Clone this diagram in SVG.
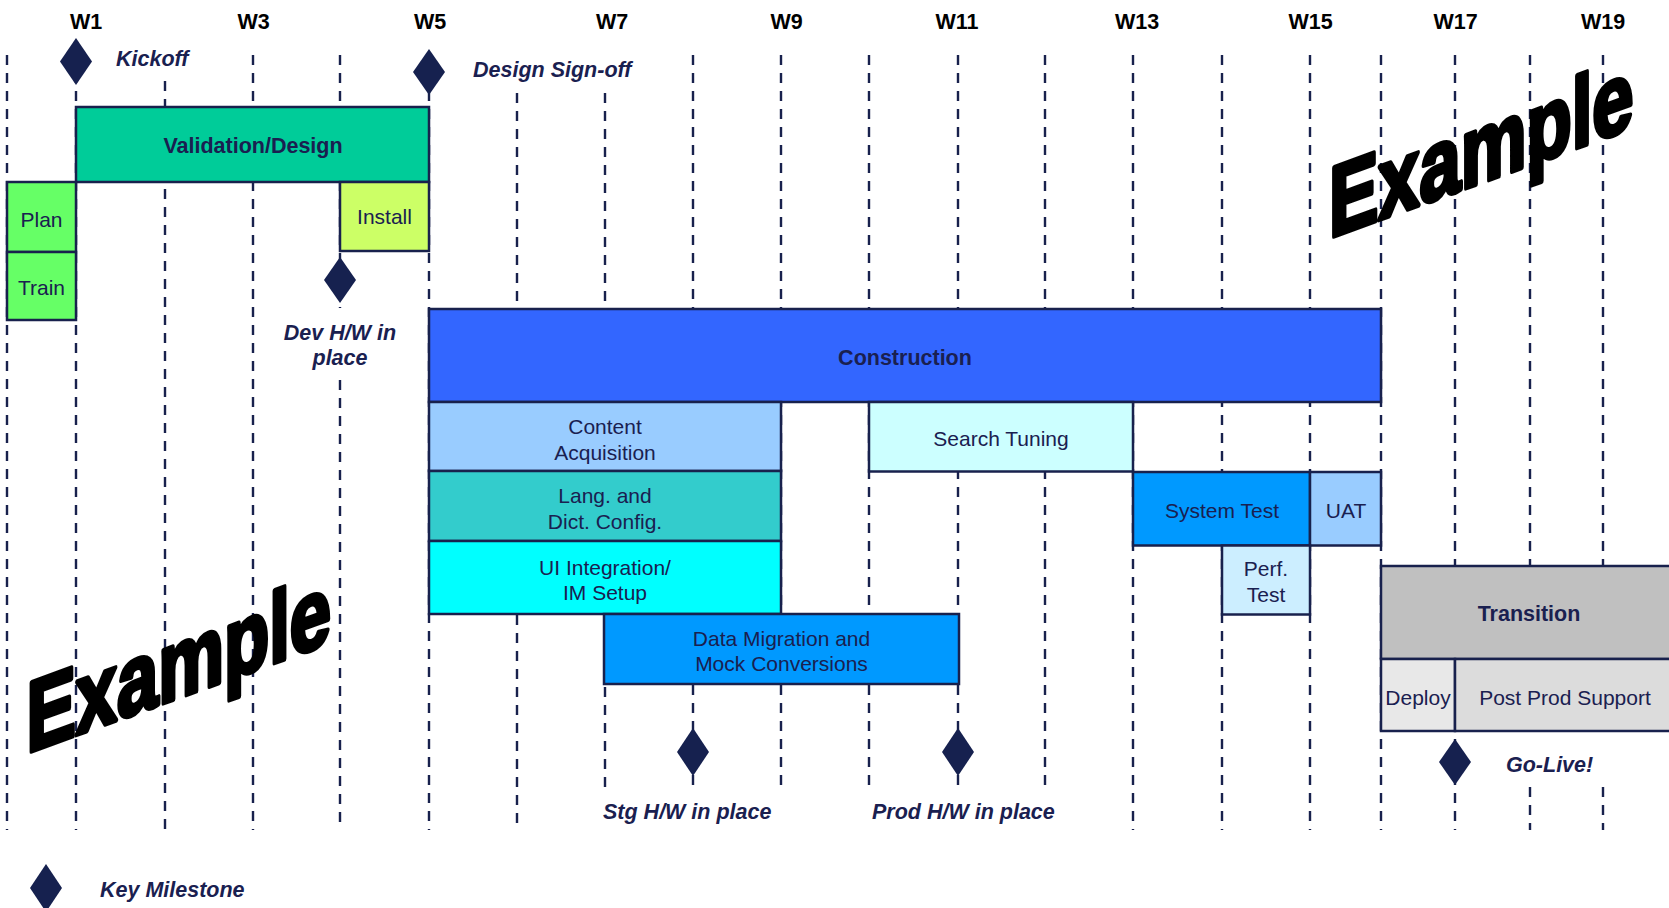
<svg xmlns="http://www.w3.org/2000/svg" width="1669" height="908" viewBox="0 0 1669 908">
<defs>
<style>
.grid line{stroke:#18214d;stroke-width:2.4;stroke-dasharray:10 8;fill:none}
.box{stroke:#18214d;stroke-width:2.5}
.wk{font-family:"Liberation Sans",Arial,sans-serif;font-weight:bold;font-size:21.5px;fill:#000;text-anchor:middle}
.bt{font-family:"Liberation Sans",Arial,sans-serif;font-size:21px;fill:#1a2050;text-anchor:middle}
.bb{font-family:"Liberation Sans",Arial,sans-serif;font-size:21.5px;font-weight:bold;fill:#1a2050;text-anchor:middle}
.ms{font-family:"Liberation Sans",Arial,sans-serif;font-size:21.5px;font-weight:bold;font-style:italic;fill:#1a2050}
.dm{fill:#16214f}
.wm{font-family:"Liberation Sans",Arial,sans-serif;font-size:100px;font-weight:bold;fill:#000;stroke:#000;stroke-width:5;stroke-linejoin:round}
</style>
</defs>
<rect width="1669" height="908" fill="#fff"/>
<g id="weeks">
<text class="wk" x="86" y="29">W1</text>
<text class="wk" x="253.5" y="29">W3</text>
<text class="wk" x="430" y="29">W5</text>
<text class="wk" x="612" y="29">W7</text>
<text class="wk" x="786.5" y="29">W9</text>
<text class="wk" x="957" y="29">W11</text>
<text class="wk" x="1137" y="29">W13</text>
<text class="wk" x="1310.5" y="29">W15</text>
<text class="wk" x="1455.5" y="29">W17</text>
<text class="wk" x="1603" y="29">W19</text>
</g>
<g id="connectors" class="grid">
<line x1="7" y1="55" x2="7" y2="830"/>
<line x1="76" y1="55" x2="76" y2="830"/>
<line x1="165" y1="81" x2="165" y2="830"/>
<line x1="253" y1="55" x2="253" y2="830"/>
<line x1="340" y1="55" x2="340" y2="308"/>
<line x1="340" y1="380" x2="340" y2="830"/>
<line x1="429" y1="55" x2="429" y2="830"/>
<line x1="517" y1="93" x2="517" y2="830"/>
<line x1="605" y1="93" x2="605" y2="787"/>
<line x1="693" y1="55" x2="693" y2="787"/>
<line x1="781" y1="55" x2="781" y2="787"/>
<line x1="869" y1="55" x2="869" y2="787"/>
<line x1="958" y1="55" x2="958" y2="787"/>
<line x1="1045" y1="55" x2="1045" y2="787"/>
<line x1="1133" y1="55" x2="1133" y2="830"/>
<line x1="1222" y1="55" x2="1222" y2="830"/>
<line x1="1310" y1="55" x2="1310" y2="830"/>
<line x1="1381" y1="55" x2="1381" y2="830"/>
<line x1="1455" y1="55" x2="1455" y2="830"/>
<line x1="1530" y1="55" x2="1530" y2="737"/>
<line x1="1530" y1="787" x2="1530" y2="830"/>
<line x1="1603" y1="55" x2="1603" y2="737"/>
<line x1="1603" y1="787" x2="1603" y2="830"/>
</g>
<g id="validation"><rect class="box" x="76" y="107" width="353" height="75" fill="#00cc99"/><text class="bb" x="253" y="152.5">Validation/Design</text></g>
<g id="plan"><rect class="box" x="7" y="182" width="69" height="70" fill="#66ff66"/><text class="bt" x="41.5" y="226.5">Plan</text></g>
<g id="train"><rect class="box" x="7" y="252" width="69" height="68" fill="#66ff66"/><text class="bt" x="41.5" y="294.5">Train</text></g>
<g id="install"><rect class="box" x="340" y="182" width="89" height="69" fill="#ccff66"/><text class="bt" x="384.5" y="223.5">Install</text></g>
<g id="construction"><rect class="box" x="429" y="309" width="952" height="93" fill="#3366ff"/><text class="bb" x="905" y="364.5">Construction</text></g>
<g id="content"><rect class="box" x="429" y="402" width="352" height="69" fill="#99ccff"/><text class="bt" x="605" y="433.5">Content</text><text class="bt" x="605" y="459.5">Acquisition</text></g>
<g id="lang"><rect class="box" x="429" y="471" width="352" height="70" fill="#33cccc"/><text class="bt" x="605" y="502.5">Lang. and</text><text class="bt" x="605" y="528.5">Dict. Config.</text></g>
<g id="ui"><rect class="box" x="429" y="541" width="352" height="73" fill="#00ffff"/><text class="bt" x="605" y="574.5">UI Integration/</text><text class="bt" x="605" y="599.5">IM Setup</text></g>
<g id="datamig"><rect class="box" x="604" y="614" width="355" height="70" fill="#0099ff"/><text class="bt" x="781.5" y="645.5">Data Migration and</text><text class="bt" x="781.5" y="670.5">Mock Conversions</text></g>
<g id="search"><rect class="box" x="869" y="402" width="264" height="69.5" fill="#ccffff"/><text class="bt" x="1001" y="445.5">Search Tuning</text></g>
<g id="systest"><rect class="box" x="1133" y="472" width="177" height="73.5" fill="#0099ff"/><text class="bt" x="1222" y="517.5">System Test</text></g>
<g id="uat"><rect class="box" x="1310" y="472" width="71" height="73.5" fill="#99ccff"/><text class="bt" x="1346" y="517.5">UAT</text></g>
<g id="perf"><rect class="box" x="1222" y="545.5" width="88" height="69" fill="#cceeff"/><text class="bt" x="1266" y="575.5">Perf.</text><text class="bt" x="1266" y="601.5">Test</text></g>
<g id="transition"><rect class="box" x="1381" y="566" width="300" height="93" fill="#c0c0c0"/><text class="bb" x="1529" y="620.5">Transition</text></g>
<g id="deploy"><rect class="box" x="1381" y="659" width="74" height="72" fill="#e8e8e8"/><text class="bt" x="1418" y="704.5">Deploy</text></g>
<g id="postprod"><rect class="box" x="1455" y="659" width="226" height="72" fill="#dcdcdc"/><text class="bt" x="1565" y="704.5">Post Prod Support</text></g>
<g id="kickoff"><path class="dm" d="M76 38 L92 61.5 L76 85 L60 61.5 Z"/><text class="ms" x="116" y="66">Kickoff</text></g>
<g id="signoff"><path class="dm" d="M429 49 L445 72 L429 95 L413 72 Z"/><text class="ms" x="473" y="77">Design Sign-off</text></g>
<g id="devhw"><path class="dm" d="M340 257 L356 280 L340 303 L324 280 Z"/><text class="ms" x="340" y="340" text-anchor="middle">Dev H/W in</text><text class="ms" x="340" y="365" text-anchor="middle">place</text></g>
<g id="stghw"><path class="dm" d="M693 728 L709 752 L693 776 L677 752 Z"/><text class="ms" x="603" y="819">Stg H/W in place</text></g>
<g id="prodhw"><path class="dm" d="M958 728 L974 752 L958 776 L942 752 Z"/><text class="ms" x="872" y="819">Prod H/W in place</text></g>
<g id="golive"><path class="dm" d="M1455 739 L1471 762 L1455 785 L1439 762 Z"/><text class="ms" x="1506" y="772">Go-Live!</text></g>
<g id="legend"><path class="dm" d="M46 864 L62 888 L46 912 L30 888 Z"/><text class="ms" x="100" y="897">Key Milestone</text></g>
<g id="watermarks">
<text class="wm" transform="translate(1329,238) skewY(-20) scale(0.74,1)">Example</text>
<text class="wm" transform="translate(26.5,753) skewY(-20) scale(0.74,1)">Example</text>
</g>
</svg>
